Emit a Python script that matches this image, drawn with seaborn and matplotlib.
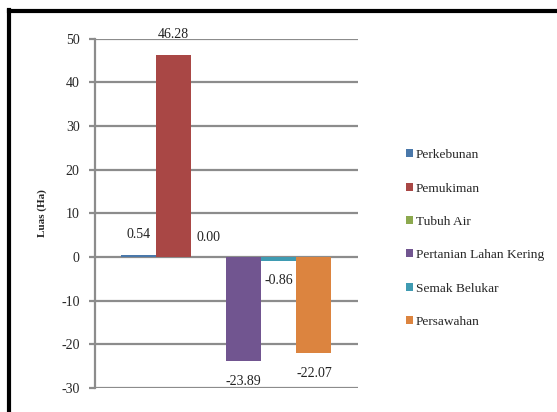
import matplotlib
matplotlib.use("Agg")
import matplotlib.pyplot as plt
import seaborn as sns
import pandas as pd
from matplotlib.lines import Line2D

categories = ["Perkebunan", "Pemukiman", "Tubuh Air", "Pertanian Lahan Kering",
              "Semak Belukar", "Persawahan"]
values = [0.54, 46.28, 0.00, -23.89, -0.86, -22.07]
value_labels = ["0.54", "46.28", "0.00", "-23.89", "-0.86", "-22.07"]
colors = ["#4A78AA", "#A94745", "#8CA94E", "#715590", "#3F9BB2", "#DC843F"]
yticks = [-30, -20, -10, 0, 10, 20, 30, 40, 50]

sns.set_theme(style="white")
plt.rcParams["font.family"] = ["Liberation Serif", "DejaVu Serif"]

df = pd.DataFrame({"grp": [""] * len(categories), "kategori": categories, "luas": values})

fig = plt.figure(figsize=(5.57, 4.12), dpi=100)
ax = fig.add_axes([95 / 557, 1 - 388 / 412, (357.7 - 95) / 557, (388 - 38.7) / 412])

sns.barplot(data=df, x="grp", y="luas", hue="kategori", hue_order=categories,
            palette=colors, width=0.8, saturation=1, linewidth=0, edgecolor="none",
            ax=ax, legend=True)

ax.set_xlim(-0.5, 0.5)
ax.set_ylim(-30, 50)
ax.set_yticks(yticks)
ax.set_yticklabels([str(t) for t in yticks], fontsize=10)
ax.set_xticks([])
ax.set_xlabel("")
ax.set_ylabel("Luas (Ha)", fontsize=8, fontweight="bold", labelpad=10)

grid_c = "#8C8C8C"
ax.grid(axis="y", color=grid_c, linewidth=1.6)
ax.set_axisbelow(True)
for s in ["top", "right", "bottom"]:
    ax.spines[s].set_visible(False)
ax.spines["left"].set_color(grid_c)
ax.spines["left"].set_linewidth(1.6)
ax.tick_params(axis="y", which="major", left=True, length=4, width=1.6,
               color=grid_c, pad=7, labelsize=10)

for cont, lab, v in zip(ax.containers, value_labels, values):
    p = cont.patches[0]
    xc = p.get_x() + p.get_width() / 2
    off = 14.4 if v >= 0 else -14.4
    ax.annotate(lab, xy=(xc, v), xytext=(0, off), textcoords="offset points",
                ha="center", va="center", fontsize=10, color="#222222")

leg = ax.legend(loc="center left", bbox_to_anchor=(406 / 557, 1 - 238.5 / 412),
                bbox_transform=fig.transFigure, frameon=False, fontsize=9.6,
                handlelength=0.55, handleheight=0.55, handletextpad=0.2,
                labelspacing=1.6, borderpad=0, borderaxespad=0)

fig.add_artist(Line2D([9 / 557, 9 / 557], [0, 1 - 10 / 412], transform=fig.transFigure,
                      color="black", linewidth=3.0, solid_capstyle="projecting"))
fig.add_artist(Line2D([9 / 557, 1], [1 - 11 / 412, 1 - 11 / 412], transform=fig.transFigure,
                      color="black", linewidth=3.0, solid_capstyle="projecting"))

fig.savefig("out.png", dpi=100)
